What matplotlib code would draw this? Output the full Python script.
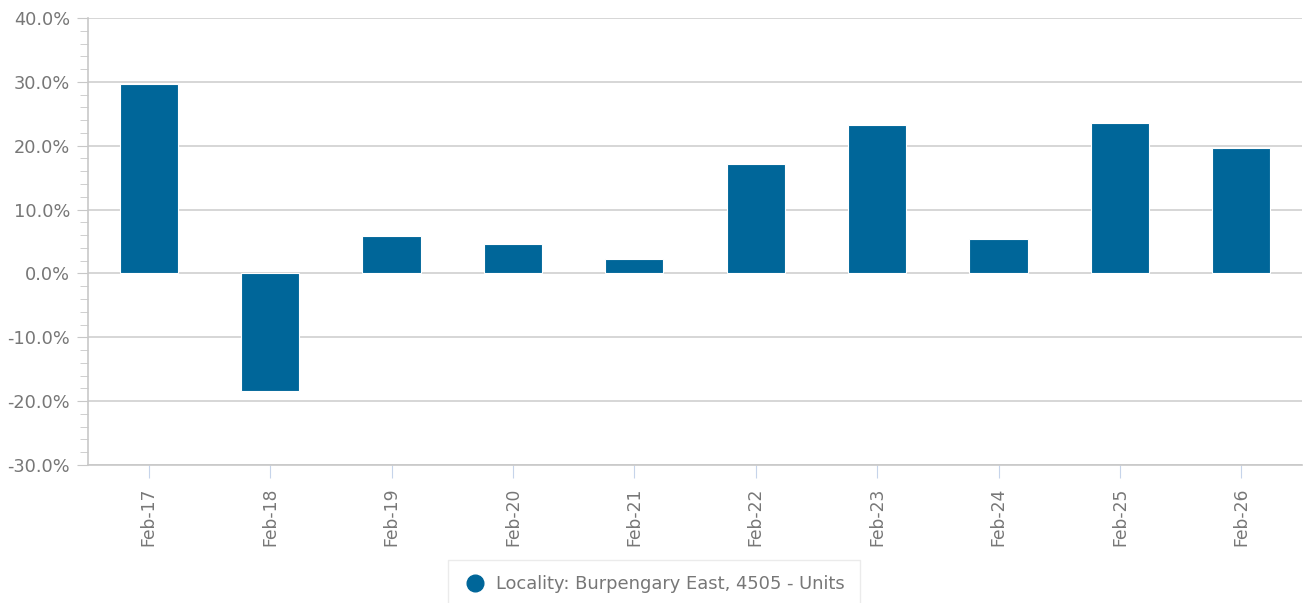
import matplotlib
matplotlib.use("Agg")
import matplotlib.pyplot as plt
from matplotlib.ticker import MultipleLocator, FuncFormatter
from matplotlib.lines import Line2D

plt.rcParams["font.family"] = ["DejaVu Sans"]

categories = ["Feb-17", "Feb-18", "Feb-19", "Feb-20", "Feb-21",
              "Feb-22", "Feb-23", "Feb-24", "Feb-25", "Feb-26"]
values = [29.6, -18.4, 5.8, 4.6, 2.2, 17.1, 23.2, 5.4, 23.5, 19.6]
series_name = "Locality: Burpengary East, 4505 - Units"

BAR = "#006699"
TXT = "#777777"
GRID = "#d0d0d0"

fig = plt.figure(figsize=(13.06, 6.03), dpi=100)
ax = fig.add_axes([88 / 1306, 1 - 465 / 603, (1302 - 88) / 1306, (465 - 18) / 603])

x = range(len(categories))
ax.bar(x, values, width=0.48, color=BAR, edgecolor="white", linewidth=0.8, zorder=3)

ax.set_xlim(-0.5, len(categories) - 0.5)
ax.set_ylim(-30, 40)
ax.yaxis.set_major_locator(MultipleLocator(10))
ax.yaxis.set_minor_locator(MultipleLocator(2))
ax.yaxis.set_major_formatter(FuncFormatter(lambda v, p: f"{v:.1f}%"))
ax.grid(axis="y", color=GRID, linewidth=1.2, zorder=0)

ax.set_xticks(list(x))
ax.set_xticklabels(categories, rotation=90)

for s in ["top", "right"]:
    ax.spines[s].set_visible(False)
ax.spines["left"].set_color("#c8c8c8")
ax.spines["bottom"].set_color("#c8c8c8")
ax.spines["left"].set_linewidth(1.2)
ax.spines["bottom"].set_linewidth(1.2)

ax.tick_params(axis="y", which="major", length=8, color="#c8c8c8", labelcolor=TXT,
               labelsize=12.8, pad=5)
ax.tick_params(axis="y", which="minor", length=6, color="#c8c8c8")
ax.tick_params(axis="x", length=9, color="#c6d4ea", labelcolor=TXT, labelsize=12.3, pad=7)

handle = Line2D([], [], marker="o", linestyle="", markersize=12,
                markerfacecolor=BAR, markeredgecolor=BAR)
leg = fig.legend([handle], [series_name], loc="upper center",
                 bbox_to_anchor=(654 / 1306, 1 - 560 / 603),
                 frameon=True, fancybox=False, fontsize=12.9, labelcolor=TXT,
                 handletextpad=0.5, borderpad=0.85, handlelength=1.3, borderaxespad=0)
leg.get_frame().set_edgecolor("#e6e6e6")
leg.get_frame().set_linewidth(1)

fig.savefig("out.png", dpi=100)
